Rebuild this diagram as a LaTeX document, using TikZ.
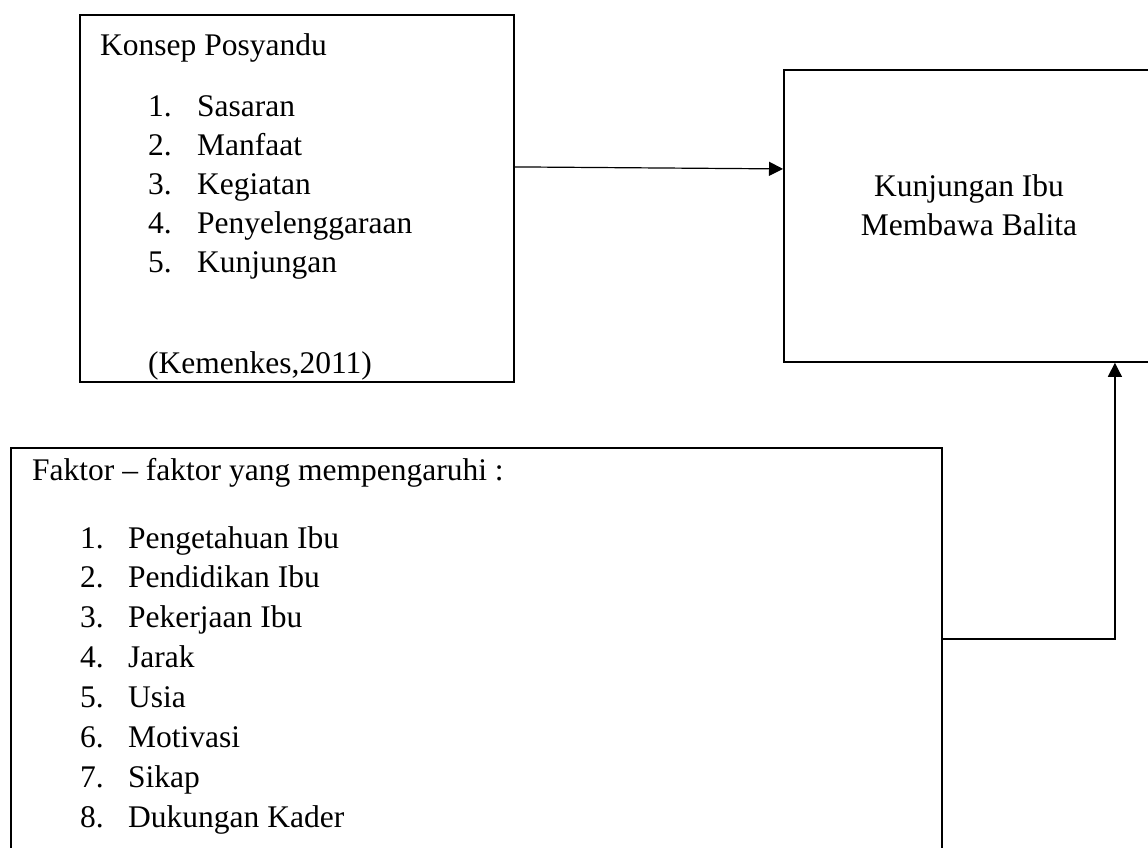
\documentclass[tikz,border=0pt]{standalone}
\usepackage{fontspec}
\setmainfont{Liberation Serif}
\usetikzlibrary{arrows.meta}
\begin{document}
\begin{tikzpicture}[x=1pt,y=-1pt,
  box/.style={draw, line width=1.8pt, rectangle, inner sep=0pt, anchor=north west},
  txt/.style={anchor=base west, inner sep=0pt, font=\fontsize{31.5}{39}\selectfont},
  ctxt/.style={anchor=base, inner sep=0pt, font=\fontsize{31.5}{39}\selectfont},
  arr/.style={line width=1.2pt, -{Triangle[length=14pt,width=14pt]}}]
\useasboundingbox (0,0) rectangle (1148,847);
\begin{scope}
\clip (0,0) rectangle (1148,847);
\node[box, minimum width=434pt, minimum height=367pt] (b1) at (79,14) {};
\node[box, minimum width=372pt, minimum height=292pt] (b2) at (783,69) {};
\node[box, minimum width=931pt, minimum height=413pt] (b3) at (10,447) {};
\end{scope}
% box 1 text
\node[txt] (h1) at (100,55) {Konsep Posyandu};
\foreach \i/\t [count=\k from 0] in {1/Sasaran,2/Manfaat,3/Kegiatan,4/Penyelenggaraan,5/Kunjungan}{
  \node[txt] (an\i) at (148,116+39*\k) {\i.};
  \node[txt] (at\i) at (197,116+39*\k) {\t};
}
\node[txt] (src) at (148,373) {(Kemenkes,2011)};
% box 2 text
\node[ctxt] (k1) at (969,196) {Kunjungan Ibu};
\node[ctxt] (k2) at (969,235) {Membawa Balita};
% box 3 text
\node[txt] (h3) at (32,480) {Faktor – faktor yang mempengaruhi :};
\foreach \i/\t [count=\k from 0] in {1/Pengetahuan Ibu,2/Pendidikan Ibu,3/Pekerjaan Ibu,4/Jarak,5/Usia,6/Motivasi,7/Sikap,8/Dukungan Kader}{
  \node[txt] (bn\i) at (80,548+39.9*\k) {\i.};
  \node[txt] (bt\i) at (128,548+39.9*\k) {\t};
}
% connectors
\draw[arr] ([yshift=31.5pt]b1.east) -- ([yshift=47pt]b2.west);
\draw[arr] ([yshift=15.5pt]b3.east) -| ([xshift=145pt]b2.south);
\end{tikzpicture}
\end{document}
